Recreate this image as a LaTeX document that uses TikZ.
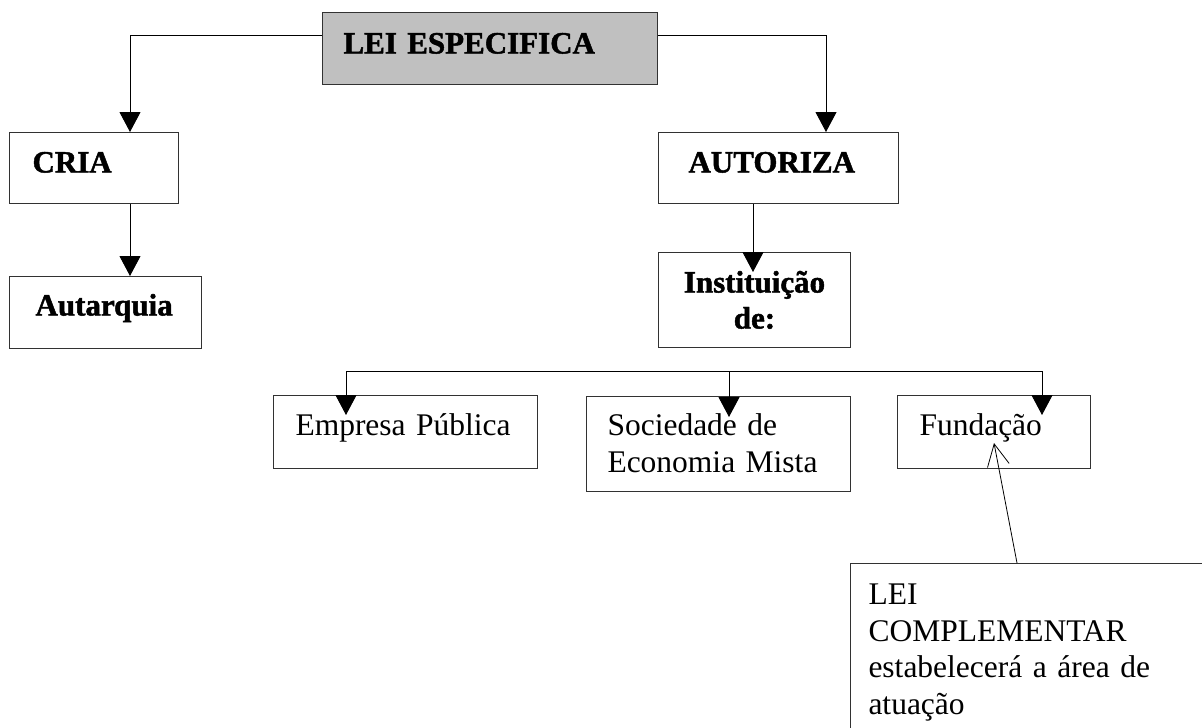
\documentclass[tikz,border=0pt]{standalone}
\usepackage{fontspec}
\setmainfont[BoldFeatures={FakeBold=1.5}]{Liberation Serif}
\usetikzlibrary{arrows.meta,calc}
\definecolor{leigray}{RGB}{192,192,192}
\definecolor{boxline}{RGB}{50,50,50}
\tikzset{
  caixa/.style={draw=boxline,line width=1pt,anchor=north west,inner ysep=0pt,align=left},
  negrito/.style={font=\bfseries\fontsize{31}{36}\selectfont},
  normal/.style={font=\fontsize{31.5}{36.5}\selectfont},
  seta/.style={line width=1pt,-{Triangle[length=20pt,width=21pt]}},
  aberta/.style={line width=0.8pt,-{Straight Barb[length=22pt,width=22pt]}}
}
\begin{document}
\begin{tikzpicture}[x=1pt,y=-1pt]
\clip (0,0) rectangle (1202,728);
\fill[white] (0,0) rectangle (1202,728);
\node[caixa,negrito,fill=leigray,inner xsep=21pt,text width=293pt,text height=41pt,text depth=31pt] (lei) at (322,12) {LEI ESPECIFICA};
\node[caixa,negrito,inner xsep=23pt,text width=123pt,text height=40pt,text depth=31pt] (cria) at (9,132) {CRIA};
\node[caixa,negrito,inner xsep=26pt,text width=140pt,text height=39pt,text depth=33pt] (autarquia) at (9,276) {Autarquia};
\node[caixa,negrito,inner xsep=30pt,text width=180pt,text height=40pt,text depth=31pt] (autoriza) at (658,132) {AUTORIZA};
\node[caixa,negrito,align=center,inner xsep=10pt,text width=172pt,text height=40pt,text depth=55pt] (instituicao) at (658,252) {Instituição\\de:};
\node[caixa,normal,inner xsep=22pt,text width=220pt,text height=40pt,text depth=33pt] (empresa) at (273,395) {Empresa Pública};
\node[caixa,normal,inner xsep=21pt,text width=222pt,text height=39pt,text depth=56pt] (sociedade) at (586,396) {Sociedade de\\Economia Mista};
\node[caixa,normal,inner xsep=22pt,text width=149pt,text height=40pt,text depth=33pt] (fundacao) at (897,395) {Fundação};
\node[caixa,normal,inner xsep=18pt,text width=324pt,text height=41pt,text depth=200pt] (complementar) at (850,563) {LEI\\COMPLEMENTAR\\estabelecerá a área de\\atuação};
\draw[seta] ($(lei.north west)+(0,23)$) -| ($(cria.north west)+(121,0)$);
\draw[seta] ($(lei.north east)+(0,23)$) -| ($(autoriza.north west)+(168,0)$);
\draw[seta] ($(cria.south west)+(121,0)$) -- ($(autarquia.north west)+(121,0)$);
\draw[seta] ($(autoriza.south west)+(95,0)$) -- ($(instituicao.north west)+(95,20)$);
\coordinate (bus) at (346,371);
\coordinate (pontaS) at ($(sociedade.north west)+(143,21)$);
\draw[seta] (bus) -- ($(empresa.north west)+(73,20)$);
\draw[seta] (bus) -| ($(fundacao.north west)+(145,20)$);
\draw[seta] (pontaS |- bus) -- (pontaS);
\draw[aberta] ($(complementar.north west)+(167,0)$) -- ($(fundacao.north west)+(97,48)$);
\end{tikzpicture}
\end{document}
